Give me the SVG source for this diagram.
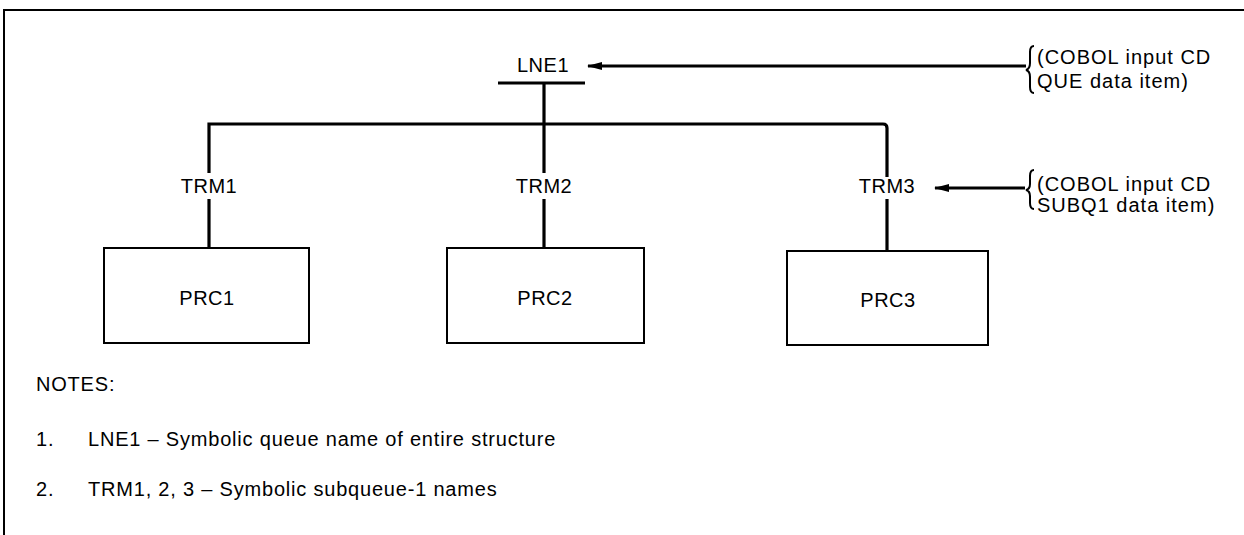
<svg xmlns="http://www.w3.org/2000/svg" width="1244" height="535" viewBox="0 0 1244 535">
<style>
text{font-family:"Liberation Sans",Arial,sans-serif;font-size:20px;fill:#000}
.mid{text-anchor:middle;letter-spacing:0.5px}
.side{letter-spacing:1px}
.note{letter-spacing:0.8px}
.ln{stroke:#000;stroke-width:3.2;fill:none}
.thin{stroke:#000;stroke-width:2;fill:none}
.box{stroke:#000;stroke-width:2;fill:#fff}
</style>
<defs>
<marker id="ah" markerWidth="15" markerHeight="8" refX="14" refY="4" orient="auto" markerUnits="userSpaceOnUse">
<path d="M0,0 L15,4 L0,8 Z" fill="#000"/>
</marker>
</defs>
<g id="frame">
<path class="thin" d="M4,535 V10 H1244"/>
</g>
<g id="connectors">
<line class="ln" x1="498" y1="83" x2="585" y2="83"/>
<line class="ln" x1="544" y1="83" x2="544" y2="173"/>
<path class="ln" d="M209,173 V124 H883 Q887,124 887,128 V177"/>
<line class="ln" x1="209" y1="199" x2="209" y2="247"/>
<line class="ln" x1="544" y1="199" x2="544" y2="247"/>
<line class="ln" x1="887" y1="199" x2="887" y2="250"/>
<line class="ln" x1="1026" y1="66" x2="588" y2="66" marker-end="url(#ah)"/>
<line class="ln" x1="1025" y1="188" x2="935" y2="188" marker-end="url(#ah)"/>
<path class="thin" d="M1034,46 Q1030,46 1030,52 V63 Q1030,69 1026,70 Q1030,71 1030,77 V87 Q1030,93 1034,93"/>
<path class="thin" d="M1034,170 Q1030,170 1030,176 V184 Q1030,189 1026,190 Q1030,191 1030,196 V203 Q1030,209 1034,209"/>
</g>
<g id="LNE1">
<text class="mid" x="543" y="72">LNE1</text>
</g>
<g id="TRM1"><text class="mid" x="209" y="193">TRM1</text></g>
<g id="TRM2"><text class="mid" x="544" y="193">TRM2</text></g>
<g id="TRM3"><text class="mid" x="887" y="193">TRM3</text></g>
<g id="PRC1"><rect class="box" x="104" y="248" width="205" height="95"/><text class="mid" x="207" y="305">PRC1</text></g>
<g id="PRC2"><rect class="box" x="447" y="248" width="197" height="95"/><text class="mid" x="545" y="305">PRC2</text></g>
<g id="PRC3"><rect class="box" x="787" y="251" width="201" height="94"/><text class="mid" x="888" y="307">PRC3</text></g>
<g id="note-que">
<text class="side" x="1037" y="64">(COBOL input CD</text>
<text class="side" x="1037" y="88">QUE data item)</text>
</g>
<g id="note-subq">
<text class="side" x="1037" y="191">(COBOL input CD</text>
<text class="side" x="1037" y="212">SUBQ1 data item)</text>
</g>
<g id="notes">
<text class="note" x="36" y="391">NOTES:</text>
<text class="note" x="36" y="446">1.</text>
<text class="note" x="88" y="446">LNE1 – Symbolic queue name of entire structure</text>
<text class="note" x="36" y="496">2.</text>
<text class="note" x="88" y="496">TRM1, 2, 3 – Symbolic subqueue-1 names</text>
</g>
</svg>
